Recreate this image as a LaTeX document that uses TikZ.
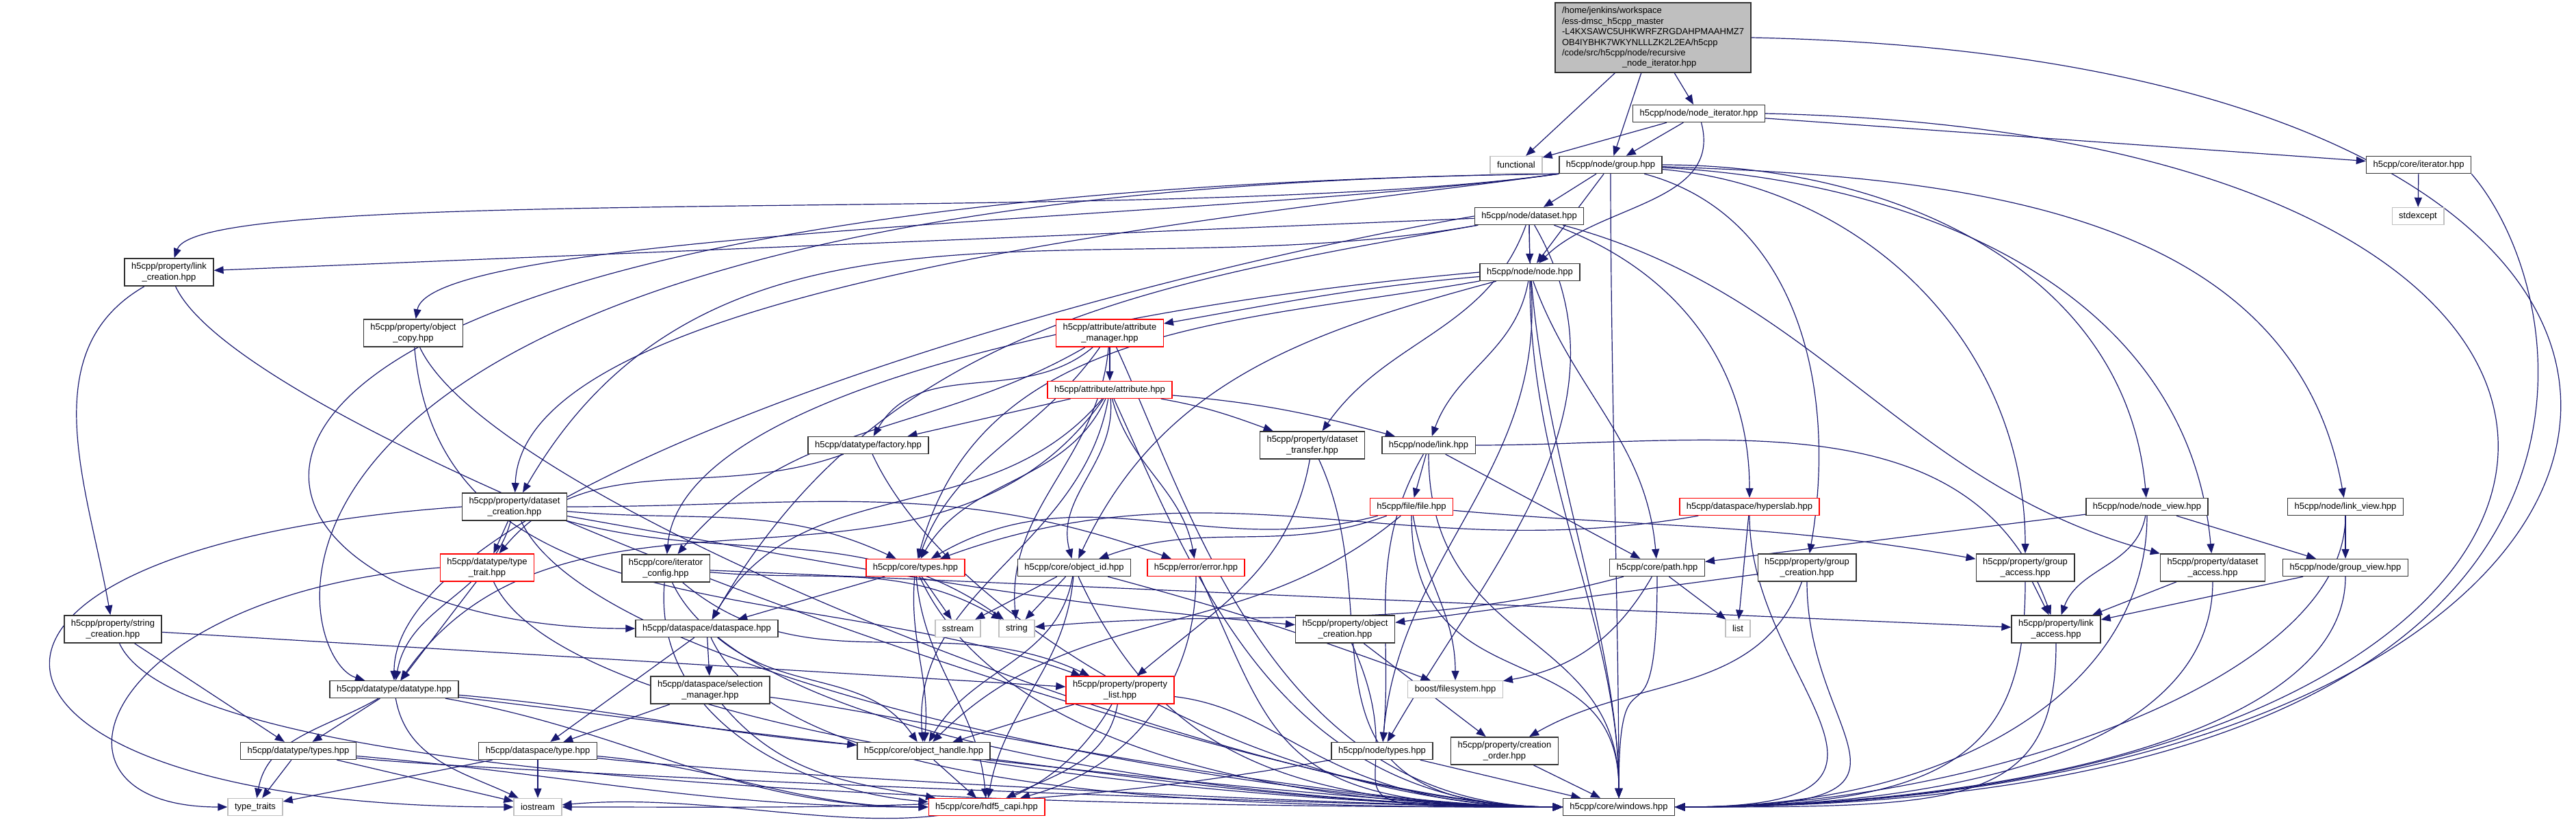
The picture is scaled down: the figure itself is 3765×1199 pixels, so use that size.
\documentclass[tikz,border=0pt]{standalone}
\usepackage{fontspec}
\setmainfont{Liberation Sans}
\usepackage{xcolor}
\definecolor{edgeblue}{HTML}{191970}
\definecolor{hdrred}{HTML}{FF0000}
\definecolor{sysgray}{HTML}{BFBFBF}
\definecolor{rootfill}{HTML}{BFBFBF}
\usepackage{tikz}
\usetikzlibrary{arrows.meta, backgrounds}

\begin{document}
\begin{tikzpicture}[
  x=0.5pt, y=0.5pt,
  font=\fontsize{6.5}{7.7}\selectfont,
  hdr/.style={
    draw=black!80, fill=white, line width=0.7pt, inner xsep=5pt,
    inner ysep=3.2pt, minimum height=12.5pt, align=center
  },
  redhdr/.style={hdr, draw=hdrred},
  syshdr/.style={hdr, draw=sysgray},
  roothdr/.style={hdr, fill=rootfill, align=left},
  dep/.style={draw=edgeblue, line width=0.6pt,
    -{Triangle[length=7pt,width=5.5pt]}}
]
  \useasboundingbox (0,0) rectangle (3765,-1199);

  % headers, top to bottom
  \node[roothdr] (root) at (2416,-55) {/home/jenkins/workspace\\/ess-dmsc\_h5cpp\_master\\-L4KXSAWC5UHKWRFZRGDAHPMAAHMZ7\\OB4IYBHK7WKYNLLLZK2L2EA/h5cpp\\/code/src/h5cpp/node/recursive\\\hspace*{44pt}\_node\_iterator.hpp};
  \node[hdr] (nodeiter) at (2483,-166) {h5cpp/node/node\_iterator.hpp};
  \node[syshdr] (functional) at (2216,-241) {functional};
  \node[hdr] (group) at (2354,-241) {h5cpp/node/group.hpp};
  \node[hdr] (coreiter) at (3535,-241) {h5cpp/core/iterator.hpp};
  \node[syshdr] (stdexcept) at (3534,-316) {stdexcept};
  \node[hdr] (dataset) at (2235,-316) {h5cpp/node/dataset.hpp};
  \node[hdr] (node) at (2236,-398) {h5cpp/node/node.hpp};
  \node[hdr] (linkcreat) at (247,-398) {h5cpp/property/link\\\_creation.hpp};
  \node[hdr] (objcopy) at (604,-487) {h5cpp/property/object\\\_copy.hpp};
  \node[redhdr] (attrmgr) at (1622,-487) {h5cpp/attribute/attribute\\\_manager.hpp};
  \node[redhdr] (attr) at (1622,-570) {h5cpp/attribute/attribute.hpp};
  \node[hdr] (factory) at (1269,-651) {h5cpp/datatype/factory.hpp};
  \node[hdr] (dstransfer) at (1918,-651) {h5cpp/property/dataset\\\_transfer.hpp};
  \node[hdr] (link) at (2088,-651) {h5cpp/node/link.hpp};
  \node[redhdr] (file) at (2063,-741) {h5cpp/file/file.hpp};
  \node[redhdr] (hyperslab) at (2557,-741) {h5cpp/dataspace/hyperslab.hpp};
  \node[hdr] (nodeview) at (3138,-741) {h5cpp/node/node\_view.hpp};
  \node[hdr] (linkview) at (3428,-741) {h5cpp/node/link\_view.hpp};
  \node[hdr] (dscreat) at (752,-741) {h5cpp/property/dataset\\\_creation.hpp};
  \node[redhdr] (typetrait) at (712,-830) {h5cpp/datatype/type\\\_trait.hpp};
  \node[hdr] (itercfg) at (973,-831) {h5cpp/core/iterator\\\_config.hpp};
  \node[redhdr] (coretypes) at (1338,-830) {h5cpp/core/types.hpp};
  \node[hdr] (objid) at (1570,-830) {h5cpp/core/object\_id.hpp};
  \node[redhdr] (error) at (1748,-830) {h5cpp/error/error.hpp};
  \node[hdr] (path) at (2422,-830) {h5cpp/core/path.hpp};
  \node[hdr] (groupcreat) at (2641,-830) {h5cpp/property/group\\\_creation.hpp};
  \node[hdr] (groupaccess) at (2960,-830) {h5cpp/property/group\\\_access.hpp};
  \node[hdr] (dsaccess) at (3234,-830) {h5cpp/property/dataset\\\_access.hpp};
  \node[hdr] (groupview) at (3428,-830) {h5cpp/node/group\_view.hpp};
  \node[hdr] (stringcreat) at (165,-920) {h5cpp/property/string\\\_creation.hpp};
  \node[hdr] (dataspace) at (1033,-919) {h5cpp/dataspace/dataspace.hpp};
  \node[syshdr] (sstream) at (1400,-919) {sstream};
  \node[syshdr] (string) at (1486,-919) {string};
  \node[hdr] (objcreat) at (1966,-920) {h5cpp/property/object\\\_creation.hpp};
  \node[syshdr] (list) at (2540,-919) {list};
  \node[hdr] (linkaccess) at (3005,-920) {h5cpp/property/link\\\_access.hpp};
  \node[hdr] (dtype) at (576,-1008) {h5cpp/datatype/datatype.hpp};
  \node[hdr] (selmgr) at (1038,-1009) {h5cpp/dataspace/selection\\\_manager.hpp};
  \node[redhdr] (plist) at (1637,-1009) {h5cpp/property/property\\\_list.hpp};
  \node[syshdr] (boostfs) at (2127,-1008) {boost/filesystem.hpp};
  \node[hdr] (dtypes) at (436,-1098) {h5cpp/datatype/types.hpp};
  \node[hdr] (dstype) at (786,-1098) {h5cpp/dataspace/type.hpp};
  \node[hdr] (objhandle) at (1350,-1098) {h5cpp/core/object\_handle.hpp};
  \node[hdr] (nodetypes) at (2020,-1098) {h5cpp/node/types.hpp};
  \node[hdr] (creatorder) at (2199,-1098) {h5cpp/property/creation\\\_order.hpp};
  \node[syshdr] (typetraits) at (373,-1180) {type\_traits};
  \node[syshdr] (iostream) at (786,-1180) {iostream};
  \node[redhdr] (capi) at (1442,-1180) {h5cpp/core/hdf5\_capi.hpp};
  \node[hdr] (windows) at (2366,-1180) {h5cpp/core/windows.hpp};

  \begin{scope}[on background layer]
  % short, nearly straight includes
  \foreach \a/\b in {root/functional, root/nodeiter, root/group,
      nodeiter/functional, nodeiter/group, nodeiter/coreiter,
      coreiter/stdexcept, group/dataset, group/node, dataset/node,
      dataset/linkcreat, attrmgr/attr, attr/factory, link/file, link/path,
      path/list, hyperslab/list, dscreat/typetrait, typetrait/dtype,
      coretypes/dataspace, coretypes/sstream, objid/sstream, objid/string,
      dataspace/selmgr, dataspace/dstype, selmgr/dstype, dtype/dtypes,
      dtypes/typetraits, dstype/iostream, dstype/typetraits, dtypes/iostream,
      plist/objhandle, objhandle/capi, nodeview/groupview, linkview/groupview,
      groupaccess/linkaccess, dsaccess/linkaccess, groupview/linkaccess,
      nodeview/path, groupcreat/objcreat, objcreat/creatorder,
      stringcreat/dtypes, stringcreat/plist, itercfg/linkaccess,
      nodetypes/windows, creatorder/windows}
    \draw[dep] (\a) -- (\b);

  % group.hpp fans out to the left along the top
  \foreach \b/\i/\l in {linkcreat/70/0.15, objcopy/80/0.2, dscreat/88/0.5}
    \draw[dep] (group.south west) to[out=188,in=\i,out looseness=0.7,
      in looseness=\l] (\b);
  \draw[dep] (group.south west) .. controls (250,-275) and (420,-960) .. (dtype);
  \draw[dep] (group.south west) .. controls (0,-285) and (250,-919) .. (dataspace.west);
  \draw[dep] (node.west) to[out=185,in=85,in looseness=0.5] (itercfg);
  \draw[dep] (dataset.west) to[out=190,in=90,in looseness=0.4] (dtype);

  % curved includes
  \foreach \a/\b/\o/\i in {nodeiter/node/-75/45,
      group/nodeview/0/95, group/linkview/-2/100, group/groupcreat/-15/80,
      group/groupaccess/-5/90, group/dsaccess/-3/95,
      dataset/dscreat/190/60, dataset/hyperslab/-20/90,
      dataset/dstransfer/-110/55, dataset/dsaccess/-15/165,
      dataset/dataspace/190/60, dataset/nodetypes/-60/60,
      node/attrmgr/185/10, node/link/-100/70, node/path/-70/95,
      node/coretypes/190/75, node/objid/195/65, node/nodetypes/-85/85,
      attrmgr/factory/-140/60, attrmgr/itercfg/-150/50,
      attrmgr/string/-95/95, attrmgr/coretypes/-125/70,
      attr/dstransfer/-10/160, attr/link/-5/165, attr/coretypes/-115/60,
      attr/error/-75/100, attr/dtype/-125/55, attr/dataspace/-130/60,
      attr/objhandle/-100/95, attr/objid/-85/105,
      factory/typetrait/200/50,
      dstransfer/plist/-100/40, link/linkaccess/0/110,
      link/nodetypes/-120/85, file/objid/200/20, file/boostfs/-80/90,
      file/groupaccess/-5/170, file/coretypes/195/30,
      file/objhandle/-140/45, hyperslab/coretypes/190/20,
      nodeview/linkaccess/-100/70, groupcreat/creatorder/-110/30,
      path/string/195/5, path/boostfs/-120/10,
      dscreat/dtype/-105/80, dscreat/coretypes/-5/155,
      dscreat/error/0/160, dscreat/objcreat/-10/175,
      dscreat/string/-15/145, itercfg/plist/-40/155,
      itercfg/string/-5/150, coretypes/objhandle/-95/85,
      coretypes/capi/-85/95, objid/objhandle/-100/60,
      objid/capi/-95/80, objid/boostfs/-15/160, error/capi/-90/15,
      linkcreat/stringcreat/-150/100, objcopy/plist/-85/160,
      dataspace/objhandle/-40/125, dtype/typetraits/-150/80,
      dtype/iostream/-80/155, dtype/objhandle/-5/175, dtype/capi/-10/180,
      dtypes/capi/-5/180, dstype/capi/-5/180, plist/capi/-100/25,
      plist/iostream/-120/5, nodetypes/iostream/190/0,
      selmgr/capi/-50/170, itercfg/capi/-95/175}
    \draw[dep] (\a) to[out=\o,in=\i] (\b);

  % everything ends in windows.hpp
  \foreach \s in {linkcreat, objcopy, stringcreat, attrmgr, attr, factory,
      dstransfer, dscreat, typetrait, itercfg, coretypes, objid, error,
      dataspace, objcreat}
    \draw[dep] (\s) .. controls +(120,-260) and +(-420,0) .. (windows.west);
  \foreach \s in {selmgr, plist, dtype, dtypes, dstype, objhandle}
    \draw[dep] (\s) .. controls +(250,-30) and +(-350,0) .. (windows.west);
  \foreach \s in {group, dataset, node, link, file, path}
    \draw[dep] (\s) .. controls +(0,-300) and +(0,250) .. (windows.north);
  \foreach \s in {hyperslab, groupcreat, nodeview, linkview, groupview,
      groupaccess, dsaccess, linkaccess}
    \draw[dep] (\s) .. controls +(0,-260) and +(420,0) .. (windows.east);
  \draw[dep] (root.east) .. controls (4250,-90) and (4050,-1180) .. (windows.east);
  \draw[dep] (nodeiter.east) .. controls (4100,-200) and (3950,-1180) .. (windows.east);
  \draw[dep] (coreiter.south east) .. controls (3780,-450) and (3900,-1180) .. (windows.east);

  % wide detours
  \draw[dep] (dscreat.west) .. controls +(-850,-60) and +(-850,0) .. (iostream.west);
  \draw[dep] (typetrait.west) .. controls +(-500,-40) and +(-300,0) .. (typetraits.west);
  \end{scope}
\end{tikzpicture}
\end{document}
